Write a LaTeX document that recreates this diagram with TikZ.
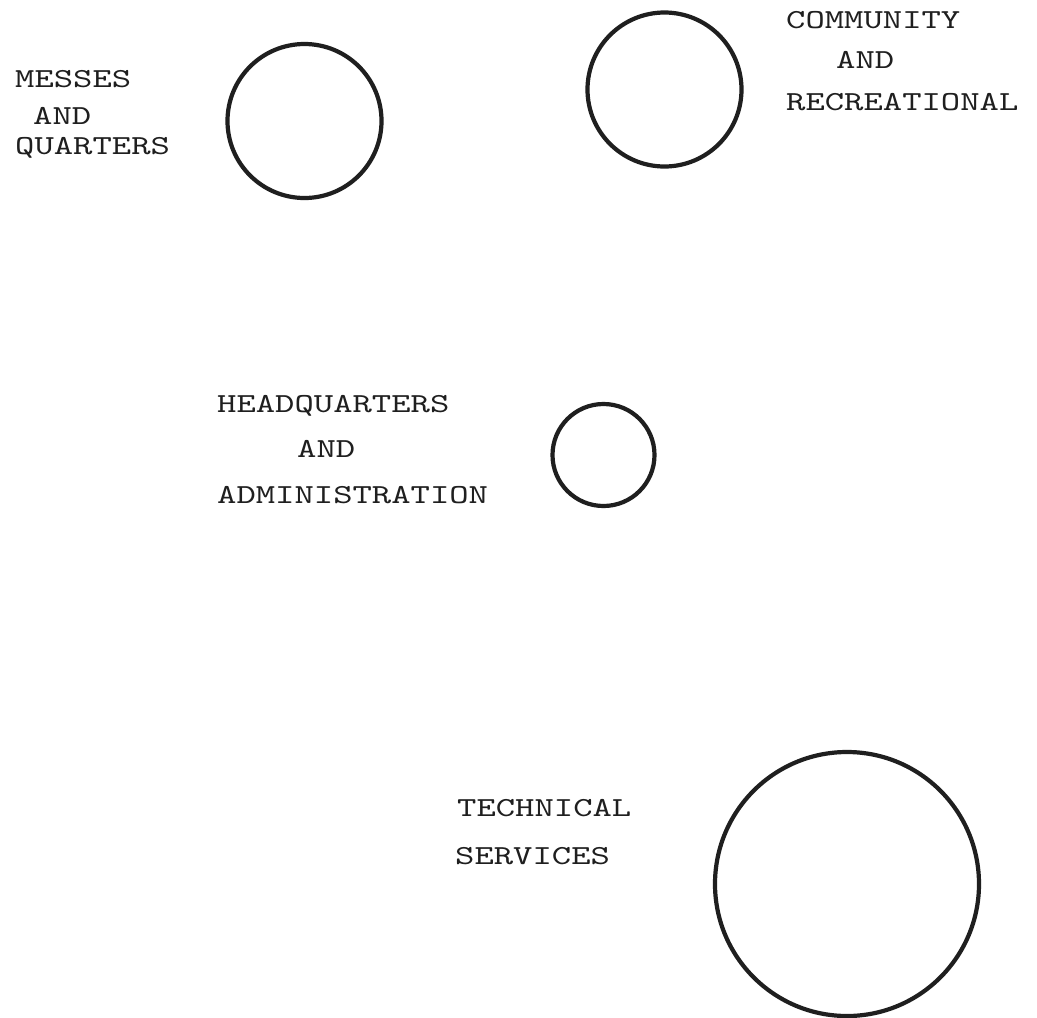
\documentclass[tikz,border=0pt]{standalone}
\usepackage{fontspec}
\newfontfamily\tw{lmmono10-regular.otf}[FakeStretch=1.34]
\definecolor{ink}{gray}{0.12}
\tikzset{
  ring/.style={circle, draw=ink, line width=4.2pt, inner sep=0pt},
  lbl/.style={anchor=base west, inner sep=0pt, text=ink, font={\tw\fontsize{27.5}{30}\selectfont}}
}
\begin{document}
\begin{tikzpicture}[x=1pt,y=-1pt]
\useasboundingbox[fill=white] (0,0) rectangle (1037,1018);
% circles
\node[ring, minimum size=154pt] (c1) at (304.5,121) {};
\node[ring, minimum size=154pt] (c2) at (664.5,89.5) {};
\node[ring, minimum size=102pt] (c3) at (603.5,455) {};
\node[ring, minimum size=264pt] (c4) at (847,884) {};
% labels
\node[lbl] (ms1) at (15,87) {MESSES};
\node[lbl] (ms2) at (33,124) {AND};
\node[lbl] (ms3) at (15,154) {QUARTERS};
\node[lbl] (cr1) at (786,28) {COMMUNITY};
\node[lbl] (cr2) at (836,68) {AND};
\node[lbl] (cr3) at (786,110) {RECREATIONAL};
\node[lbl] (hq1) at (217,412) {HEADQUARTERS};
\node[lbl] (hq2) at (297,457) {AND};
\node[lbl] (hq3) at (217,503) {ADMINISTRATION};
\node[lbl] (ts1) at (457,816) {TECHNICAL};
\node[lbl] (ts2) at (455,864) {SERVICES};
\end{tikzpicture}
\end{document}
